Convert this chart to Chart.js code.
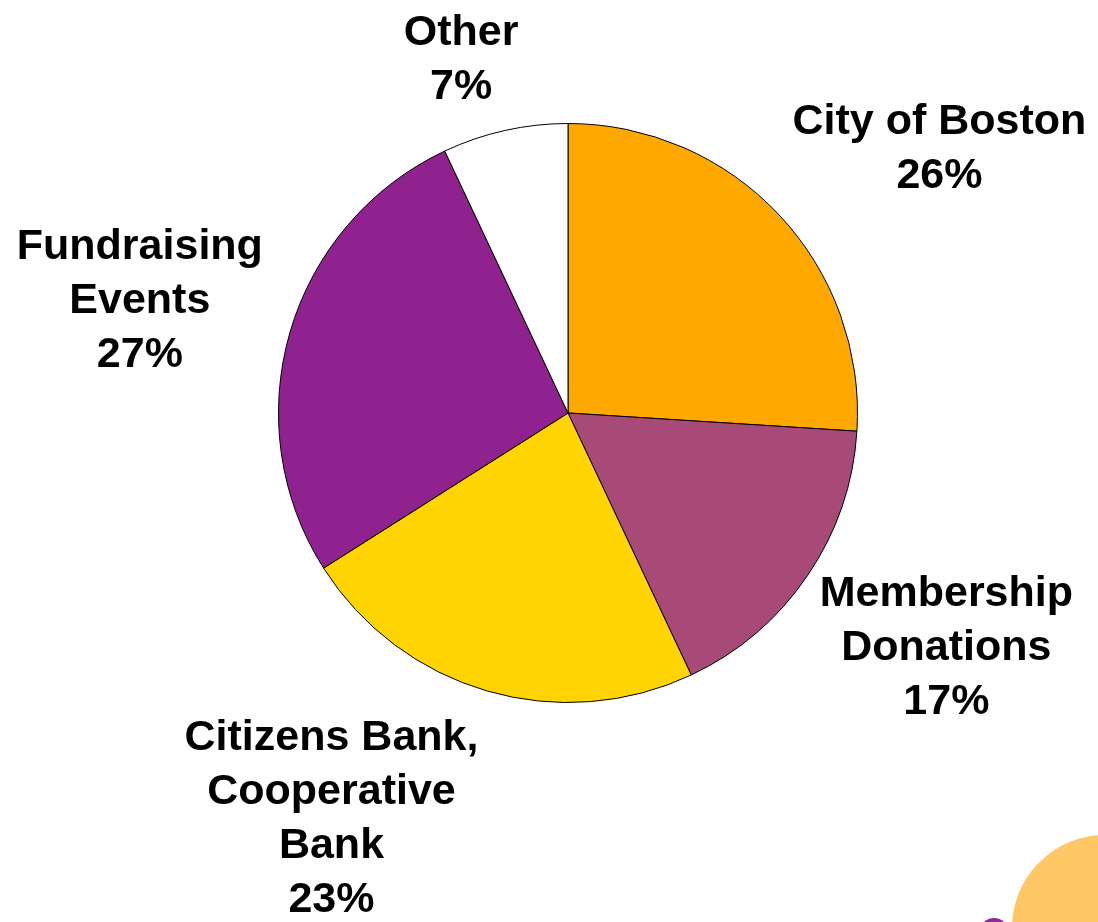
<!DOCTYPE html>
<html>
<head>
<meta charset="utf-8">
<title>Funding sources</title>
<script src="https://cdn.jsdelivr.net/npm/chart.js@4/dist/chart.umd.min.js"></script>
<style>
  html, body { margin: 0; padding: 0; background: #fff; overflow: hidden; }
  #wrap { position: relative; width: 1098px; height: 922px; }
  canvas { position: absolute; left: 0; top: 0; }
  .deco { position: absolute; border-radius: 50%; }
</style>
</head>
<body>
<div id="wrap">
  <!-- corner decoration from the slide template -->
  <div class="deco" style="left:1012px; top:835px; width:186px; height:186px; background:#FFC766;"></div>
  <div class="deco" style="left:979px; top:918px; width:30px; height:30px; background:#8E2A9A;"></div>
  <canvas id="pie" width="1098" height="922"></canvas>
</div>
<script>
/* =========================
   DATA
========================= */
const labels = [
  ['City of Boston'],
  ['Membership', 'Donations'],
  ['Citizens Bank,', 'Cooperative', 'Bank'],
  ['Fundraising', 'Events'],
  ['Other']
];
const shares = [26, 17, 23, 27, 7];
const sliceColors = ['#FFA800', '#A84A78', '#FFD400', '#90228F', '#FFFFFF'];

// where each label block sits, as a multiple of the radius from the centre
const labelOffsets = [
  [1.283, -0.921],
  [1.307, 0.803],
  [-0.817, 1.393],
  [-1.479, -0.397],
  [-0.369, -1.231]
];

/* =========================
   LABEL PLUGIN
========================= */
const outsideLabels = {
  id: 'outsideLabels',
  afterDraw(chart) {
    const ctx = chart.ctx;
    const arc = chart.getDatasetMeta(0).data[0];
    const cx = arc.x, cy = arc.y, r = arc.outerRadius;
    const lineH = 54;

    ctx.save();
    ctx.fillStyle = '#000';
    ctx.font = 'bold 43px "Liberation Sans", Arial, sans-serif';
    ctx.textAlign = 'center';
    ctx.textBaseline = 'alphabetic';

    labels.forEach((lines, i) => {
      const all = lines.concat([shares[i] + '%']);
      const bx = cx + labelOffsets[i][0] * r;
      const by = cy + labelOffsets[i][1] * r;
      const top = by - (all.length - 1) * lineH / 2;
      all.forEach((t, j) => {
        // +15 moves from cap middle to baseline
        ctx.fillText(t, bx, top + j * lineH + 15);
      });
    });
    ctx.restore();
  }
};

/* =========================
   CHART
========================= */
const ctx = document.getElementById('pie').getContext('2d');

new Chart(ctx, {
  type: 'pie',
  data: {
    labels: labels.map(l => l.join(' ')),
    datasets: [{
      data: shares,
      backgroundColor: sliceColors,
      borderColor: '#000',
      borderWidth: 1
    }]
  },
  options: {
    responsive: false,
    animation: false,
    devicePixelRatio: 1,
    layout: {
      padding: { left: 277, right: 239, top: 123, bottom: 219 }
    },
    plugins: {
      legend: { display: false },
      tooltip: { enabled: false }
    }
  },
  plugins: [outsideLabels]
});
</script>
</body>
</html>
